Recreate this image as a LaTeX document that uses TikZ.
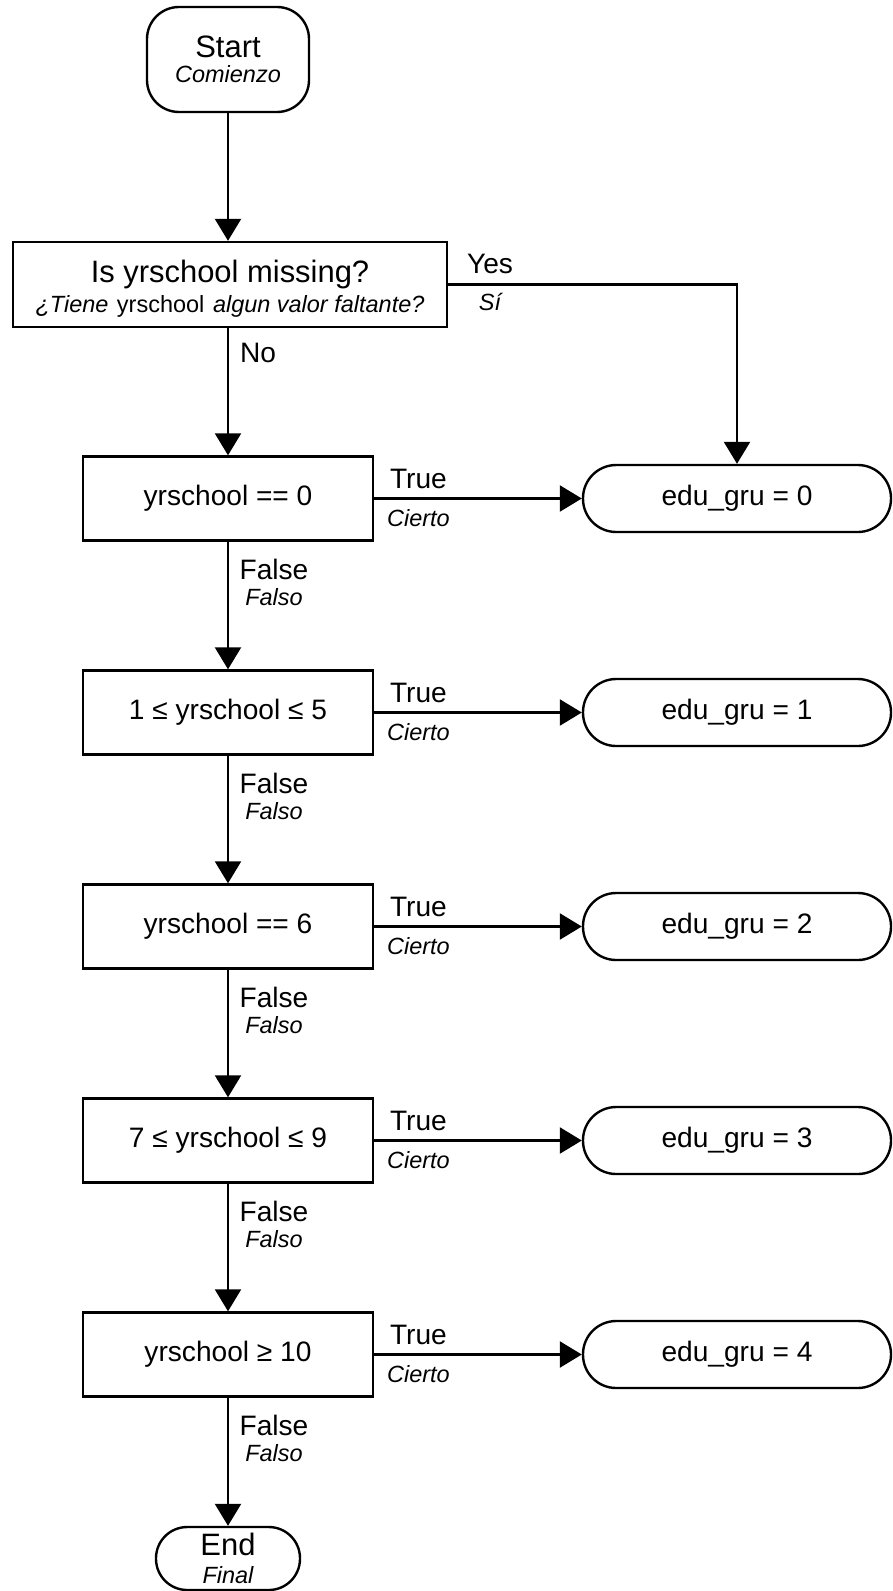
\documentclass[tikz,border=0pt]{standalone}
\usepackage{fontspec}
\setmainfont{Liberation Sans}
\usepackage{tikz}
\usetikzlibrary{arrows.meta}
\newcommand{\es}[1]{{\fontsize{16.7}{18}\selectfont\itshape #1}}

\begin{document}
\begin{tikzpicture}[line width=1.7pt,
  >={Triangle[length=5.5mm,width=6.5mm]},
  cond/.style={draw,inner sep=0pt,minimum width=7.25cm,minimum height=2.1cm,font=\fontsize{20}{24}\selectfont},
  grp/.style={draw,inner sep=0pt,rounded corners=0.83cm,minimum width=7.7cm,minimum height=1.675cm,font=\fontsize{20}{24}\selectfont},
  lbl/.style={anchor=base,inner sep=0pt,font=\fontsize{20}{24}\selectfont},
  lbles/.style={anchor=base,inner sep=0pt,font=\fontsize{16.7}{20}\selectfont\itshape}]
\useasboundingbox (0,0) rectangle (22.3,-39.775);
% start and question
\node[draw,inner sep=0pt,rounded corners=0.8cm,minimum width=4.05cm,minimum height=2.625cm,align=center,font=\fontsize{22}{17.8}\selectfont] (start) at (5.7,-1.4875) {Start\\\es{Comienzo}};
\node[draw,inner sep=0pt,minimum width=10.85cm,minimum height=2.125cm,align=center,font=\fontsize{22}{21.3}\selectfont] (q) at (5.75,-7.1125) {\rule{0pt}{21.8pt}Is yrschool missing?\\\es{¿Tiene} {\fontsize{16.7}{18}\selectfont yrschool} \es{algun valor faltante?}};
% conditions
\node[cond] (c0) at (5.7,-12.4625) {yrschool == 0};
\node[cond] (c1) at (5.7,-17.8125) {1 ≤ yrschool ≤ 5};
\node[cond] (c2) at (5.7,-23.1625) {yrschool == 6};
\node[cond] (c3) at (5.7,-28.5125) {7 ≤ yrschool ≤ 9};
\node[cond] (c4) at (5.7,-33.8625) {yrschool ≥ 10};
% groups
\node[grp] (e0) at (18.425,-12.4625) {edu\_gru = 0};
\node[grp] (e1) at (18.425,-17.8125) {edu\_gru = 1};
\node[grp] (e2) at (18.425,-23.1625) {edu\_gru = 2};
\node[grp] (e3) at (18.425,-28.5125) {edu\_gru = 3};
\node[grp] (e4) at (18.425,-33.8625) {edu\_gru = 4};
\node[draw,inner sep=0pt,rounded corners=0.78cm,minimum width=3.6cm,minimum height=1.575cm,align=center,font=\fontsize{22}{19.9}\selectfont] (end) at (5.7,-38.9625) {End\\\es{Final}};
% arrows
\draw[->] (start.south) -- (start.south |- q.north);
\draw[->] (q.east) -| (e0.north);
\draw[->] (c0.north |- q.south) -- (c0.north);
\draw[->] (c0) -- (e0);
\draw[->] (c1) -- (e1);
\draw[->] (c2) -- (e2);
\draw[->] (c3) -- (e3);
\draw[->] (c4) -- (e4);
\draw[->] (c0) -- (c1);
\draw[->] (c1) -- (c2);
\draw[->] (c2) -- (c3);
\draw[->] (c3) -- (c4);
\draw[->] (c4) -- (end);
% labels
\node[lbl] (yes) at (12.25,-6.825) {Yes};
\node[lbles] (si) at (12.25,-7.75) {Sí};
\node[lbl,anchor=base west] (no) at (5.975,-9.05) {No};
\node[lbl] (t0) at (10.46,-12.2) {True};
\node[lbles] (s0) at (10.46,-13.15) {Cierto};
\node[lbl] (t1) at (10.46,-17.55) {True};
\node[lbles] (s1) at (10.46,-18.5) {Cierto};
\node[lbl] (t2) at (10.46,-22.9) {True};
\node[lbles] (s2) at (10.46,-23.85) {Cierto};
\node[lbl] (t3) at (10.46,-28.25) {True};
\node[lbles] (s3) at (10.46,-29.2) {Cierto};
\node[lbl] (t4) at (10.46,-33.6) {True};
\node[lbles] (s4) at (10.46,-34.55) {Cierto};
\node[lbl] (f0) at (6.85,-14.475) {False};
\node[lbles] (n0) at (6.85,-15.125) {Falso};
\node[lbl] (f1) at (6.85,-19.825) {False};
\node[lbles] (n1) at (6.85,-20.475) {Falso};
\node[lbl] (f2) at (6.85,-25.175) {False};
\node[lbles] (n2) at (6.85,-25.825) {Falso};
\node[lbl] (f3) at (6.85,-30.525) {False};
\node[lbles] (n3) at (6.85,-31.175) {Falso};
\node[lbl] (f4) at (6.85,-35.875) {False};
\node[lbles] (n4) at (6.85,-36.525) {Falso};
\end{tikzpicture}
\end{document}
